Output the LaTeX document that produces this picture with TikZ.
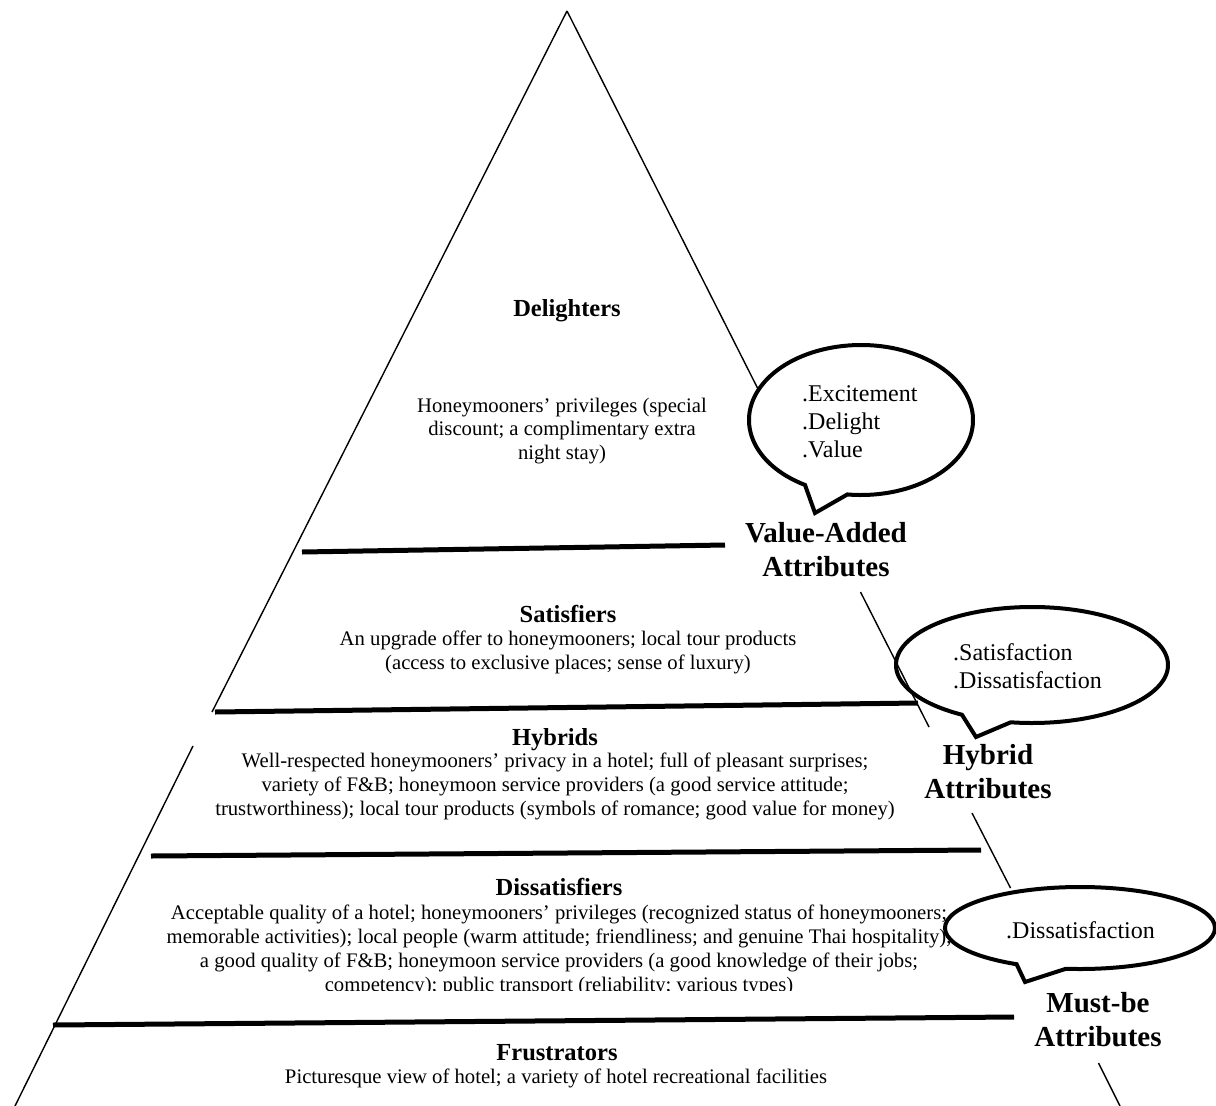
\documentclass[tikz,border=0pt]{standalone}
\usepackage{fontspec}
\setmainfont{Liberation Serif}
\usetikzlibrary{calc}
\begin{document}
\begin{tikzpicture}[x=1pt,y=-1pt,
  side/.style={line width=1.4pt},
  tier/.style={line width=5pt},
  bubble/.style={line width=4pt, line join=miter},
  head/.style={font=\fontsize{24.5}{28}\selectfont\bfseries, inner sep=0pt, anchor=base},
  body/.style={font=\fontsize{20.7}{24}\selectfont, align=center, inner sep=0pt},
  attr/.style={font=\fontsize{29}{34}\selectfont\bfseries, align=center, inner sep=0pt},
  btext/.style={font=\fontsize{24}{28}\selectfont, align=left, inner sep=0pt, anchor=base west}]
\useasboundingbox (0,0) rectangle (1216,1106);

% triangle outline coordinates
\coordinate (apex) at (567,11);
\coordinate (L1) at (212,712);
\coordinate (L2) at (193,746);
\coordinate (L3) at (15,1106);
\coordinate (R1) at (757.5,388);
\coordinate (R2a) at (860.5,592);
\coordinate (R2b) at (929,727);
\coordinate (R3a) at (972,813);
\coordinate (R3b) at (1010.5,888);
\coordinate (R4a) at (1098.5,1063);
\coordinate (R4b) at (1120,1106);

\draw[side] (apex) -- (L1);
\draw[side] (L2) -- (L3);
\draw[side] (apex) -- (R1);
\draw[side] (R2a) -- (R2b);
\draw[side] (R3a) -- (R3b);
\draw[side] (R4a) -- (R4b);

% tier separators
\coordinate (t1a) at (302,552); \coordinate (t1b) at (725,545);
\coordinate (t2a) at (215,712); \coordinate (t2b) at (918,703);
\coordinate (t3a) at (151,856); \coordinate (t3b) at (981,850);
\coordinate (t4a) at (53,1025); \coordinate (t4b) at (1014,1017);
\draw[tier] (t1a) -- (t1b);
\draw[tier] (t2a) -- (t2b);
\draw[tier] (t3a) -- (t3b);
\draw[tier] (t4a) -- (t4b);

% tier texts
\node[head] (delh) at (567,316.5) {Delighters};
\node[body, font=\fontsize{20.7}{23.5}\selectfont] (delb) at (562,431)
  {Honeymooners’ privileges (special\\discount; a complimentary extra\\night stay)};
\node[head] (sath) at (568,622) {Satisfiers};
\node[body] (satb) at (568,652)
  {An upgrade offer to honeymooners; local tour products\\(access to exclusive places; sense of luxury)};
\node[head] (hybh) at (555,745) {Hybrids};
\node[body] (hybb) at (555,786)
  {Well-respected honeymooners’ privacy in a hotel; full of pleasant surprises;\\variety of F\&B; honeymoon service providers (a good service attitude;\\trustworthiness); local tour products (symbols of romance; good value for money)};
\node[head] (dish) at (559,895.5) {Dissatisfiers};
\begin{scope}
\clip (0,0) rectangle (1216,990.5);
\node[body] (disb) at (559,950)
  {Acceptable quality of a hotel; honeymooners’ privileges (recognized status of honeymooners;\\memorable activities); local people (warm attitude; friendliness; and genuine Thai hospitality),\\a good quality of F\&B; honeymoon service providers (a good knowledge of their jobs;\\competency); public transport (reliability; various types)};
\end{scope}
\node[head] (fruh) at (557,1060) {Frustrators};
\node[body] (frub) at (556,1078)
  {Picturesque view of hotel; a variety of hotel recreational facilities};

% speech bubbles
\coordinate (b1) at (861,420);
\coordinate (b1tip) at (815,513);
\draw[bubble] ($(b1)+(120:112 and 75)$) arc[start angle=120, end angle=457, x radius=112, y radius=75]
  -- (b1tip) -- cycle;
\coordinate (b2) at (1032,665);
\coordinate (b2tip) at (976,737);
\draw[bubble] ($(b2)+(121:136 and 58)$) arc[start angle=121, end angle=459, x radius=136, y radius=58]
  -- (b2tip) -- cycle;
\coordinate (b3) at (1080,928);
\coordinate (b3tip) at (1025,982);
\draw[bubble] ($(b3)+(118:135 and 41)$) arc[start angle=118, end angle=456, x radius=135, y radius=41]
  -- (b3tip) -- cycle;

\node[btext] (e1) at (802,401) {.Excitement};
\node[btext] (e2) at (802,429) {.Delight};
\node[btext] (e3) at (802,457) {.Value};
\node[btext] (s1) at (953,660) {.Satisfaction};
\node[btext] (s2) at (953,688) {.Dissatisfaction};
\node[btext] (d1) at (1006,938) {.Dissatisfaction};

% attribute labels
\node[attr] (va) at (826,550) {Value-Added\\Attributes};
\node[attr] (ha) at (988,772) {Hybrid\\Attributes};
\node[attr] (ma) at (1098,1020) {Must-be\\Attributes};
\end{tikzpicture}
\end{document}
